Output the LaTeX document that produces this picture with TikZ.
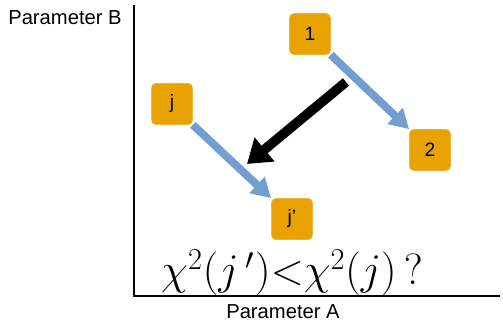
\documentclass[tikz,border=0pt]{standalone}
\usepackage{fontspec}
\setsansfont{Liberation Sans}
\setmainfont{Liberation Serif}
\usepackage{tikz}
\usetikzlibrary{arrows.meta,positioning}
\definecolor{boxorange}{RGB}{232,162,2}
\definecolor{stepblue}{RGB}{114,159,207}

\begin{document}
\begin{tikzpicture}[
    param/.style={draw=boxorange!80!white, fill=boxorange, rounded corners=2.5pt, minimum size=0.82cm, inner sep=0pt, font=\sffamily\fontsize{11}{13}\selectfont},
    step_arrow/.style={-{Triangle[width=12pt,length=11pt]}, line width=4.5pt, stepblue},
    jump_arrow/.style={-{Triangle[width=17pt,length=13pt]}, line width=5.5pt, black},
    axis_label/.style={font=\sffamily\fontsize{11.5}{13}\selectfont}
]
    \useasboundingbox (-2.68,-0.54) rectangle (7.38,5.92);

    % Axes
    \draw[line width=1.4pt] (0,5.82) -- (0,0) -- (7.32,0);
    \node[axis_label] (labB) at (-1.38,5.56) {Parameter B};
    \node[axis_label] (labA) at (2.98,-0.32) {Parameter A};

    % The parameter points
    \node[param] (p1) at (3.52,5.24) {1};
    \node[param] (p2) at (5.92,2.92) {2};
    \node[param] (pj) at (0.76,3.84) {j};
    \node[param] (pjp) at (3.16,1.54) {j’};

    % Steps
    \draw[step_arrow] (p1.south east) -- (p2.north west);
    \draw[step_arrow] (pj.south east) -- (pjp.north west);

    % Jump from one chain to the other
    \coordinate (jump_start) at (4.24,4.28);
    \coordinate (jump_end) at (2.26,2.64);
    \draw[jump_arrow] (jump_start) -- (jump_end);

    \node[anchor=base, font=\fontsize{24}{28}\selectfont] (question) at (3.16,0.22)
        {$\chi^2(j\,')\mathord{<}\chi^2(j)\,?$};
\end{tikzpicture}
\end{document}
